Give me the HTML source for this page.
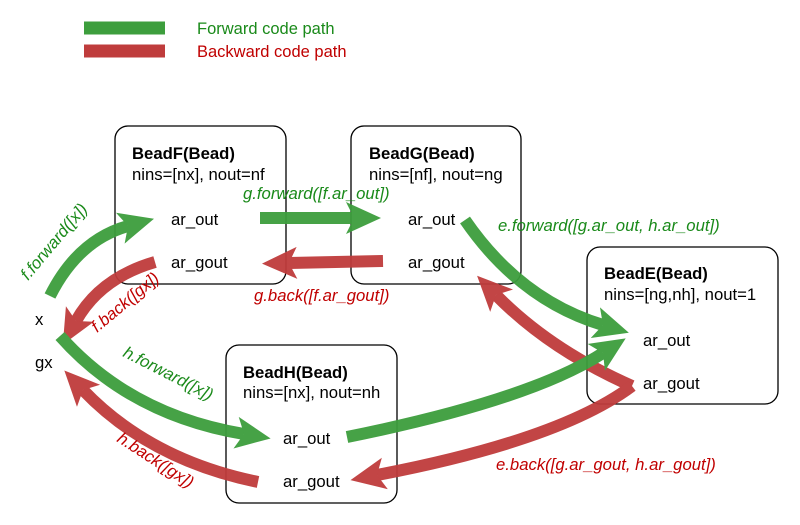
<!DOCTYPE html>
<html><head><style>
html,body{margin:0;padding:0;background:#fff;}
svg{display:block;font-family:"Liberation Sans",Arial,sans-serif;}
</style></head><body>
<svg width="800" height="525" viewBox="0 0 800 525" xmlns="http://www.w3.org/2000/svg">
<defs>
<marker id="hg" markerUnits="userSpaceOnUse" markerWidth="40" markerHeight="34" refX="8" refY="16" orient="auto">
<path d="M0,0 L35,16 L0,32 L8,16 z" fill="#3d9e3d"/></marker>
<marker id="hr" markerUnits="userSpaceOnUse" markerWidth="40" markerHeight="34" refX="8" refY="16" orient="auto">
<path d="M0,0 L35,16 L0,32 L8,16 z" fill="#bf3c3c"/></marker>
</defs>
<line x1="84" y1="28" x2="165" y2="28" stroke="#3d9e3d" stroke-width="13"/>
<text x="197" y="34" font-size="16.5" fill="#1a8a1a">Forward code path</text>
<line x1="84" y1="51" x2="165" y2="51" stroke="#bf3c3c" stroke-width="13"/>
<text x="197" y="57" font-size="16.5" fill="#c00000">Backward code path</text>

<g fill="none" stroke="#000" stroke-width="1.3">
<rect x="115" y="126" width="171" height="158" rx="13"/>
<rect x="351" y="126" width="170" height="158" rx="13"/>
<rect x="587" y="247" width="191" height="157" rx="13"/>
<rect x="226" y="345" width="171" height="158" rx="13"/>
</g>

<g font-size="16.7" fill="#000">
<text x="132" y="159" font-weight="bold">BeadF(Bead)</text>
<text x="132" y="180">nins=[nx], nout=nf</text>
<text x="171" y="225">ar_out</text>
<text x="171" y="268">ar_gout</text>
<text x="369" y="159" font-weight="bold">BeadG(Bead)</text>
<text x="369" y="180">nins=[nf], nout=ng</text>
<text x="408" y="225">ar_out</text>
<text x="408" y="268">ar_gout</text>
<text x="604" y="279" font-weight="bold">BeadE(Bead)</text>
<text x="604" y="300">nins=[ng,nh], nout=1</text>
<text x="643" y="346">ar_out</text>
<text x="643" y="389">ar_gout</text>
<text x="243" y="378" font-weight="bold">BeadH(Bead)</text>
<text x="243" y="398">nins=[nx], nout=nh</text>
<text x="283" y="444">ar_out</text>
<text x="283" y="487">ar_gout</text>
<text x="35" y="325">x</text>
<text x="35" y="368">gx</text>
</g>

<g fill="none" stroke-width="12" opacity="0.95">
<path d="M50,296 Q78,240 128,226" stroke="#3d9e3d" marker-end="url(#hg)"/>
<path d="M155,262 Q100,278 76,321" stroke="#bf3c3c" marker-end="url(#hr)"/>
<path d="M260,218 L354,218" stroke="#3d9e3d" marker-end="url(#hg)"/>
<path d="M383,261 L289,263" stroke="#bf3c3c" marker-end="url(#hr)"/>
<path d="M465,220 Q520,300 603,325" stroke="#3d9e3d" marker-end="url(#hg)"/>
<path d="M632,386 Q550,350 496,295" stroke="#bf3c3c" marker-end="url(#hr)"/>
<path d="M632,386 Q560,440 377,475" stroke="#bf3c3c" marker-end="url(#hr)"/>
<path d="M347,437 Q530,400 603,353" stroke="#3d9e3d" marker-end="url(#hg)"/>
<path d="M60,336 Q130,415 244,434" stroke="#3d9e3d" marker-end="url(#hg)"/>
<path d="M258,482 Q150,460 83,390" stroke="#bf3c3c" marker-end="url(#hr)"/>
</g>

<g font-size="16.7" font-style="italic">
<text x="243" y="199" fill="#1a8a1a">g.forward([f.ar_out])</text>
<text x="254" y="301" fill="#c00000">g.back([f.ar_gout])</text>
<text x="498" y="231" fill="#1a8a1a">e.forward([g.ar_out, h.ar_out])</text>
<text x="496" y="470" fill="#c00000">e.back([g.ar_gout, h.ar_gout])</text>
<text transform="translate(28,281) rotate(-50)" fill="#1a8a1a">f.forward([x])</text>
<text transform="translate(97,333) rotate(-40)" fill="#c00000">f.back([gx])</text>
<text transform="translate(122,356) rotate(27)" fill="#1a8a1a">h.forward([x])</text>
<text transform="translate(116,441) rotate(33)" fill="#c00000">h.back([gx])</text>
</g>
</svg>
</body></html>
